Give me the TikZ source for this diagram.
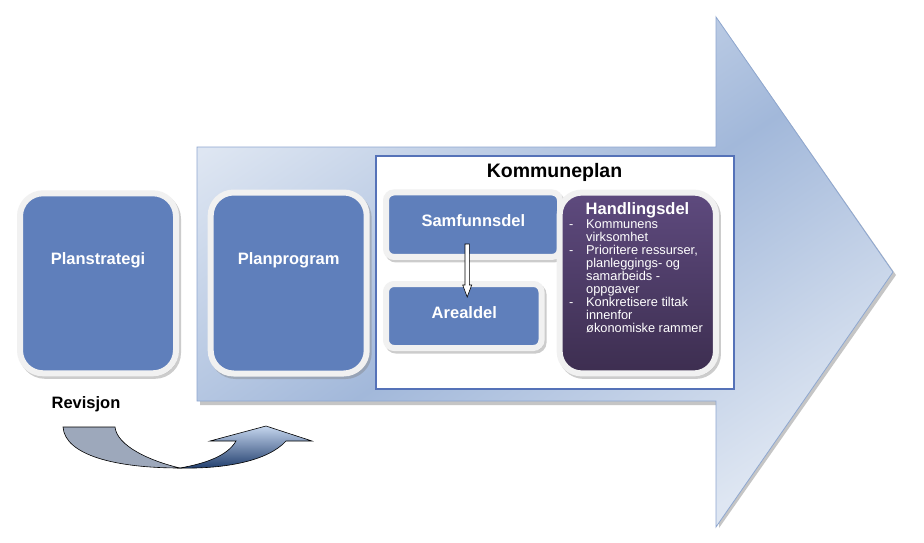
\documentclass[tikz,border=0pt]{standalone}
\usepackage{fontspec}
\setmainfont{Liberation Sans}
\usetikzlibrary{shadows,calc}
\definecolor{boxblue}{HTML}{5F7FBB}
\definecolor{framec}{HTML}{F1F1F1}
\definecolor{arlight}{HTML}{DEE6F2}
\definecolor{ardark}{HTML}{A2B8DA}
\definecolor{arline}{HTML}{8EA7D0}
\definecolor{kpborder}{HTML}{5572B8}
\definecolor{purtop}{HTML}{5E4A7E}
\definecolor{purbot}{HTML}{3D2E50}
\definecolor{revgray}{HTML}{9DA8BB}
\definecolor{revlight}{HTML}{C5D6EE}
\definecolor{revdark}{HTML}{1F3C6C}
\tikzset{
  framed/.style={rounded corners=#1, draw=framec, line width=6pt,
    drop shadow={shadow xshift=2pt, shadow yshift=-2.5pt, opacity=.4,
      fill=black!50, draw=black!50, line width=6pt}},
  bluebox/.style={framed=#1, fill=boxblue, inner sep=0pt},
  boxlabel/.style={text=white, font=\fontsize{16.5}{19}\selectfont\bfseries, inner sep=0pt},
}
\begin{document}
\begin{tikzpicture}[x=1pt,y=-1pt]
\fill[white] (0,0) rectangle (924,543);
\useasboundingbox (0,0) rectangle (924,543);

% big arrow shadow
\fill[black!45, opacity=.5] (200,150) -- (719,150) -- (719,21) -- (896,275) -- (719,528) -- (719,405) -- (200,405) -- cycle;
% big arrow
\shade[top color=arlight, bottom color=arlight, middle color=ardark, shading angle=34]
  (197,147) -- (716,147) -- (716,17) -- (893,272) -- (716,527) -- (716,401) -- (197,401) -- cycle;
\draw[arline, line width=0.8pt]
  (197,147) -- (716,147) -- (716,17) -- (893,272) -- (716,527) -- (716,401) -- (197,401) -- cycle;

% Planstrategi
\node[bluebox=23pt, minimum width=156pt, minimum height=180pt] (ps) at (98,283.3) {};
\node[boxlabel] (pst) at (98,260) {Planstrategi};

% Planprogram
\node[bluebox=23pt, minimum width=156pt, minimum height=181pt] (pp) at (288.7,283) {};
\node[boxlabel] (ppt) at (288.7,260) {Planprogram};

% Kommuneplan frame
\node[draw=kpborder, fill=white, line width=1.5pt, minimum width=358pt, minimum height=233pt, inner sep=0pt] (kp) at (555,272.5) {};
\node[font=\fontsize{19.5}{22}\selectfont\bfseries, inner sep=0pt] (kpt) at (554.5,172) {Kommuneplan};

% Samfunnsdel
\node[bluebox=8pt, minimum width=174pt, minimum height=64.5pt] (sd) at (473,224.7) {};
\node[boxlabel] (sdt) at (473.3,221) {Samfunnsdel};

% Arealdel
\node[bluebox=8pt, minimum width=155.5pt, minimum height=64pt] (ad) at (463.75,316) {};
\node[boxlabel] (adt) at (464.3,313) {Arealdel};

% Handlingsdel
\node[framed=22pt, top color=purtop, bottom color=purbot, minimum width=156.3pt, minimum height=180.8pt, inner sep=0pt] (hd) at (637.8,283) {};
\node[boxlabel] (hdt) at (637.5,210) {Handlingsdel};
\node[text=white, anchor=north west, inner sep=0pt, align=left,
      font=\fontsize{12.8}{12.8}\selectfont] (hdl) at (569,219)
 {\begin{tabular}{@{}p{17pt}@{}l@{}}
  - & Kommunens\\
     & virksomhet\\
  - & Prioritere ressurser,\\
     & planleggings- og\\
     & samarbeids -\\
     & oppgaver\\
  - & Konkretisere tiltak\\
     & innenfor\\
     & økonomiske rammer
  \end{tabular}};

% arrow Samfunnsdel -> Arealdel
\coordinate (dTop) at (467.2,244);
\coordinate (dTip) at (467.2,297);
\draw[fill=white, line width=0.6pt]
  ($(dTop)+(-2.2,0)$) -- ($(dTip)+(-2.2,-12)$) -- ($(dTip)+(-4.5,-12)$) -- (dTip)
  -- ($(dTip)+(4.5,-12)$) -- ($(dTip)+(2.2,-12)$) -- ($(dTop)+(2.2,0)$) -- cycle;

% Revisjon
\node[font=\fontsize{16.5}{19}\selectfont\bfseries, inner sep=0pt] (rev) at (86,404) {Revisjon};

% curved revision arrow
\coordinate (rA) at (63,427);
\coordinate (rB) at (115,427);
\coordinate (rX) at (180,468);
\filldraw[fill=revgray, draw=black, line width=0.6pt]
  (rA) .. controls (65,455) and (115,468) .. (rX)
  .. controls (150,461) and (117,446) .. (rB) -- cycle;
\shade[top color=revlight, bottom color=revdark, draw=black, line width=0.6pt]
  (rX) .. controls (208,463) and (228,455) .. (236,441)
  -- (210,441) -- (266,426) -- (312,441) -- (286,441)
  .. controls (268,461) and (225,469) .. (rX) -- cycle;
\end{tikzpicture}
\end{document}
